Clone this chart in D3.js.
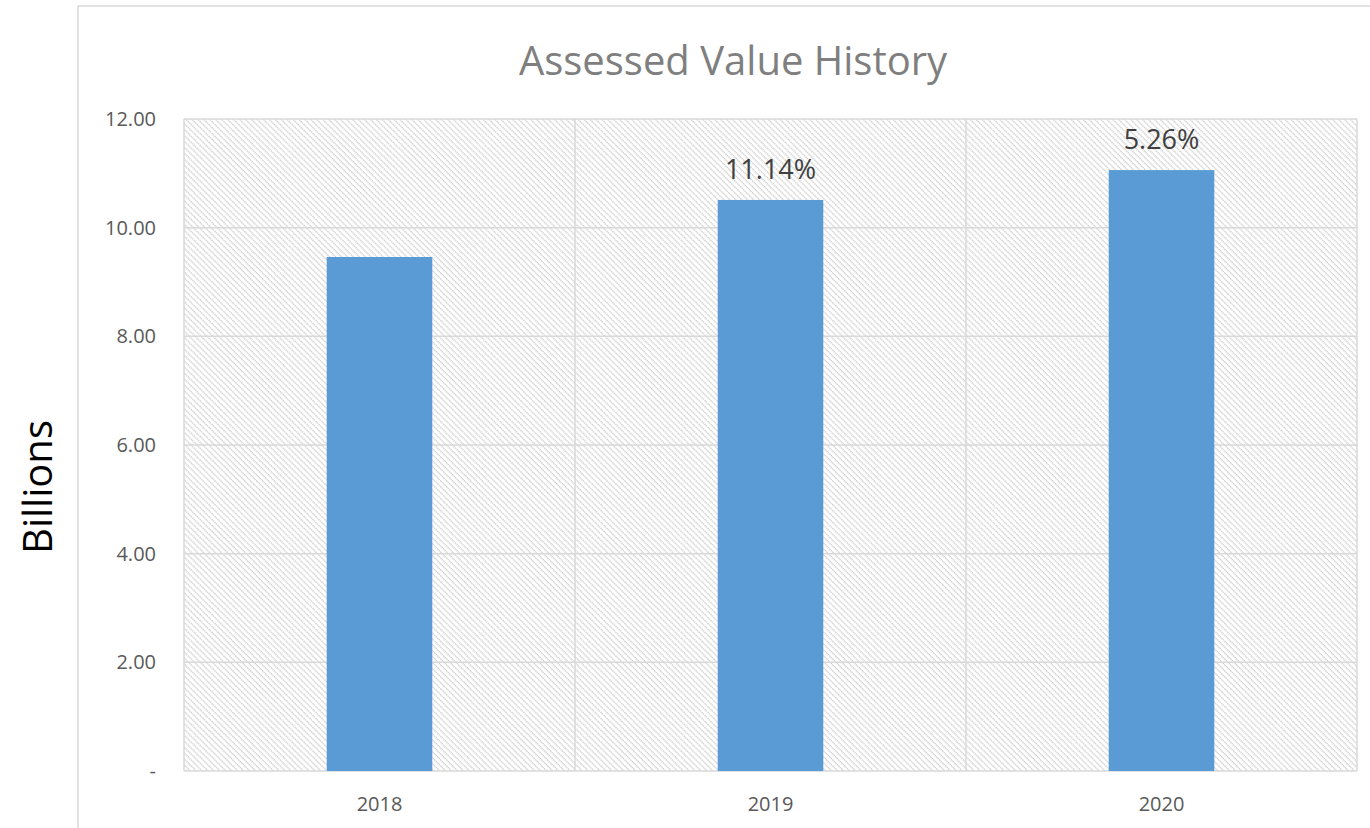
<!DOCTYPE html>
<html>
<head>
<meta charset="utf-8">
<script src="https://cdn.jsdelivr.net/npm/d3@7"></script>
<style>
  body { margin: 0; background: #fff; }
  svg { display: block; font-family: "Open Sans", "Liberation Sans", sans-serif; }
</style>
</head>
<body>
<svg id="chart" width="1370" height="828"></svg>
<script>
// values
var years = ["2018", "2019", "2020"];
var values = [9.46, 10.51, 11.06];       // billions
var changeLabels = ["", "11.14%", "5.26%"];
var yTicks = [0, 2, 4, 6, 8, 10, 12];

var svg = d3.select("#chart");
var margin = {left: 184, top: 119, right: 1357, bottom: 771};

// outer chart border (only left and top are in view)
svg.append("rect")
    .attr("x", 78).attr("y", 6)
    .attr("width", 1400).attr("height", 900)
    .attr("fill", "none")
    .attr("stroke", "#d9d9d9")
    .attr("stroke-width", 1.5);

// hatched plot background (\ direction)
var defs = svg.append("defs");
var pat = defs.append("pattern")
    .attr("id", "hatch")
    .attr("patternUnits", "userSpaceOnUse")
    .attr("width", 4.2).attr("height", 4.2)
    .attr("patternTransform", "rotate(-45)");
pat.append("line")
    .attr("x1", 1).attr("y1", 0).attr("x2", 1).attr("y2", 4.2)
    .attr("stroke", "#cccccc")
    .attr("stroke-width", 1.3)
    .attr("stroke-dasharray", "1.4,0.7");

var x = d3.scaleBand()
    .domain(years)
    .range([margin.left, margin.right])
    .paddingInner(0)
    .paddingOuter(0);

var y = d3.scaleLinear()
    .domain([0, 12])
    .range([margin.bottom, margin.top]);

svg.append("rect")
    .attr("x", margin.left).attr("y", margin.top)
    .attr("width", margin.right - margin.left)
    .attr("height", margin.bottom - margin.top)
    .attr("fill", "url(#hatch)");

// horizontal gridlines
svg.append("g")
  .selectAll("line")
  .data(yTicks)
  .enter().append("line")
    .attr("x1", margin.left).attr("x2", margin.right)
    .attr("y1", d => y(d)).attr("y2", d => y(d))
    .attr("stroke", "#d9d9d9")
    .attr("stroke-width", 1.5);

// vertical gridlines at category boundaries
var bounds = years.map(d => x(d)).concat([margin.right]);
svg.append("g")
  .selectAll("line")
  .data(bounds)
  .enter().append("line")
    .attr("x1", d => d).attr("x2", d => d)
    .attr("y1", margin.top).attr("y2", margin.bottom)
    .attr("stroke", "#d9d9d9")
    .attr("stroke-width", 1.5);

// bars
var barW = x.bandwidth() * 0.27;
svg.append("g")
  .selectAll("rect")
  .data(years)
  .enter().append("rect")
    .attr("x", d => x(d) + x.bandwidth() / 2 - barW / 2)
    .attr("y", (d, i) => y(values[i]))
    .attr("width", barW)
    .attr("height", (d, i) => y(0) - y(values[i]))
    .attr("fill", "#5b9bd5");

// percent change labels
svg.append("g")
  .selectAll("text")
  .data(years)
  .enter().append("text")
    .attr("x", d => x(d) + x.bandwidth() / 2)
    .attr("y", (d, i) => y(values[i]) - 21)
    .attr("text-anchor", "middle")
    .attr("font-size", 27)
    .attr("fill", "#404040")
    .text((d, i) => changeLabels[i]);

// y axis labels
svg.append("g")
  .selectAll("text")
  .data(yTicks)
  .enter().append("text")
    .attr("x", 156)
    .attr("y", d => y(d) + 7)
    .attr("text-anchor", "end")
    .attr("font-size", 20)
    .attr("fill", "#595959")
    .text(d => d === 0 ? "-" : d3.format(".2f")(d));

// x axis labels
svg.append("g")
  .selectAll("text")
  .data(years)
  .enter().append("text")
    .attr("x", d => x(d) + x.bandwidth() / 2)
    .attr("y", 811)
    .attr("text-anchor", "middle")
    .attr("font-size", 20)
    .attr("fill", "#595959")
    .text(d => d);

// title
svg.append("text")
    .attr("x", 733).attr("y", 75)
    .attr("text-anchor", "middle")
    .attr("font-size", 40)
    .attr("fill", "#7f7f7f")
    .text("Assessed Value History");

// y axis title
svg.append("text")
    .attr("transform", "translate(52,487) rotate(-90)")
    .attr("text-anchor", "middle")
    .attr("font-size", 40)
    .attr("fill", "#000")
    .text("Billions");
</script>
</body>
</html>
